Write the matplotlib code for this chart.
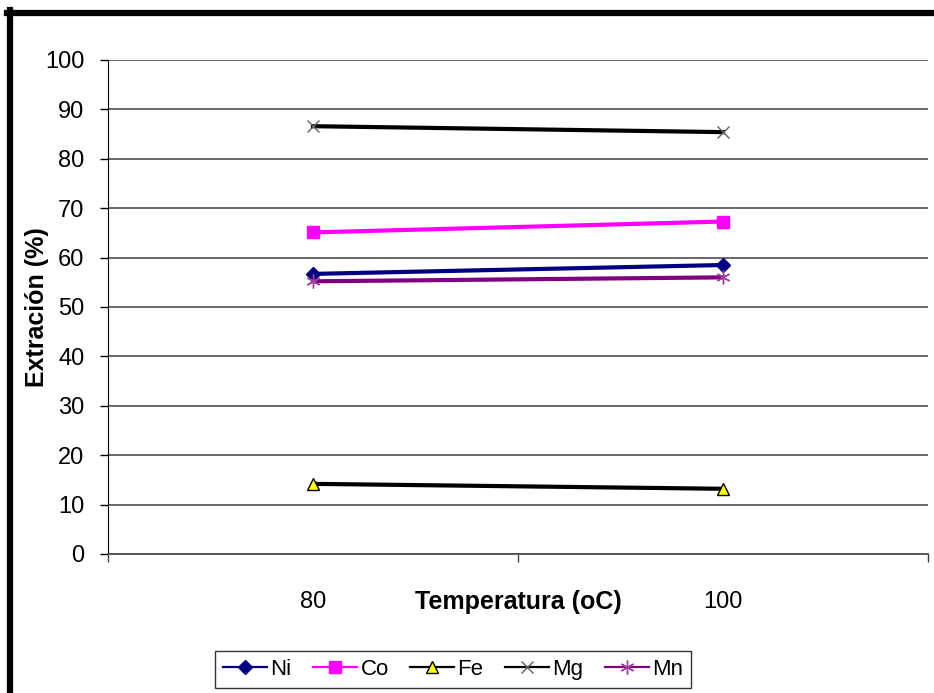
import matplotlib
matplotlib.use('Agg')
import matplotlib.pyplot as plt
from matplotlib.lines import Line2D

plt.rcParams['font.family'] = ['Liberation Sans', 'DejaVu Sans']

temps = ['80', '100']
ni = [56.7, 58.5]
co = [65.1, 67.3]
fe = [14.2, 13.2]
mg = [86.6, 85.4]
mn = [55.2, 56.0]

fig = plt.figure(figsize=(9.34, 6.93), dpi=100)
ax = fig.add_axes([108/934, 1 - 554/693, 820/934, 494/693])

x = [0.5, 1.5]
lw = 3.0
ax.plot(x, ni, color='#000080', lw=lw, marker='D', ms=7, mfc='#000080', mec='#000080', label='Ni', zorder=3)
ax.plot(x, co, color='#ff00ff', lw=lw, marker='s', ms=9, mfc='#ff00ff', mec='#ff00ff', label='Co', zorder=3)
ax.plot(x, fe, color='black', lw=lw, marker='^', ms=9, mfc='#ffff00', mec='black', mew=1, label='Fe', zorder=3)
ax.plot(x, mg, color='black', lw=lw, marker='x', ms=9, mec='#606060', mew=1, label='Mg', zorder=3)
ax.plot(x, mn, color='#800080', lw=lw, marker=(6, 2, 0), ms=10, mec='#a040a0', mew=1, label='Mn', zorder=3)

ax.set_xlim(0, 2)
ax.set_ylim(0, 100)
ax.set_yticks(range(0, 101, 10))
ax.set_xticks(x)
ax.set_xticklabels(temps)
ax.set_xticks([0, 1, 2], minor=True)
ax.tick_params(axis='x', which='major', length=0, pad=27, labelsize=17)
ax.tick_params(axis='x', which='minor', length=6, width=1, color='#404040', direction='out')
ax.tick_params(axis='y', length=6, width=1, direction='out', pad=11, labelsize=17, color='black')

ax.grid(axis='y', color='#404040', lw=1.1)
ax.set_axisbelow(True)
for s in ['top', 'right']:
    ax.spines[s].set_visible(False)
ax.spines['left'].set_color('black')
ax.spines['bottom'].set_color('#505050')
ax.spines['bottom'].set_linewidth(1.3)

ax.set_xlabel('Temperatura (oC)', fontsize=18, fontweight='bold', va='top')
ax.xaxis.set_label_coords(0.5, -0.073)
ax.set_ylabel('Extración (%)', fontsize=18, fontweight='bold', va='center')
ax.yaxis.set_label_coords(-0.0866, 0.5)

leg = fig.legend(loc='center', bbox_to_anchor=(453/934, 1 - 669.5/693), ncol=5,
                 fontsize=16, frameon=True, fancybox=False, edgecolor='black',
                 handlelength=2.0, handletextpad=0.15, columnspacing=0.95,
                 borderpad=0.35, borderaxespad=0)
leg.get_frame().set_linewidth(1)
for h in leg.get_lines():
    h.set_linewidth(1.6)

# thick outer frame (top and left)
fig.add_artist(Line2D([10/934, 10/934], [0, 1 - 10/693], transform=fig.transFigure, color='black', lw=4.5))
fig.add_artist(Line2D([7/934, 1], [1 - 12.5/693, 1 - 12.5/693], transform=fig.transFigure, color='black', lw=4.5))

fig.savefig('out.png', dpi=100)
